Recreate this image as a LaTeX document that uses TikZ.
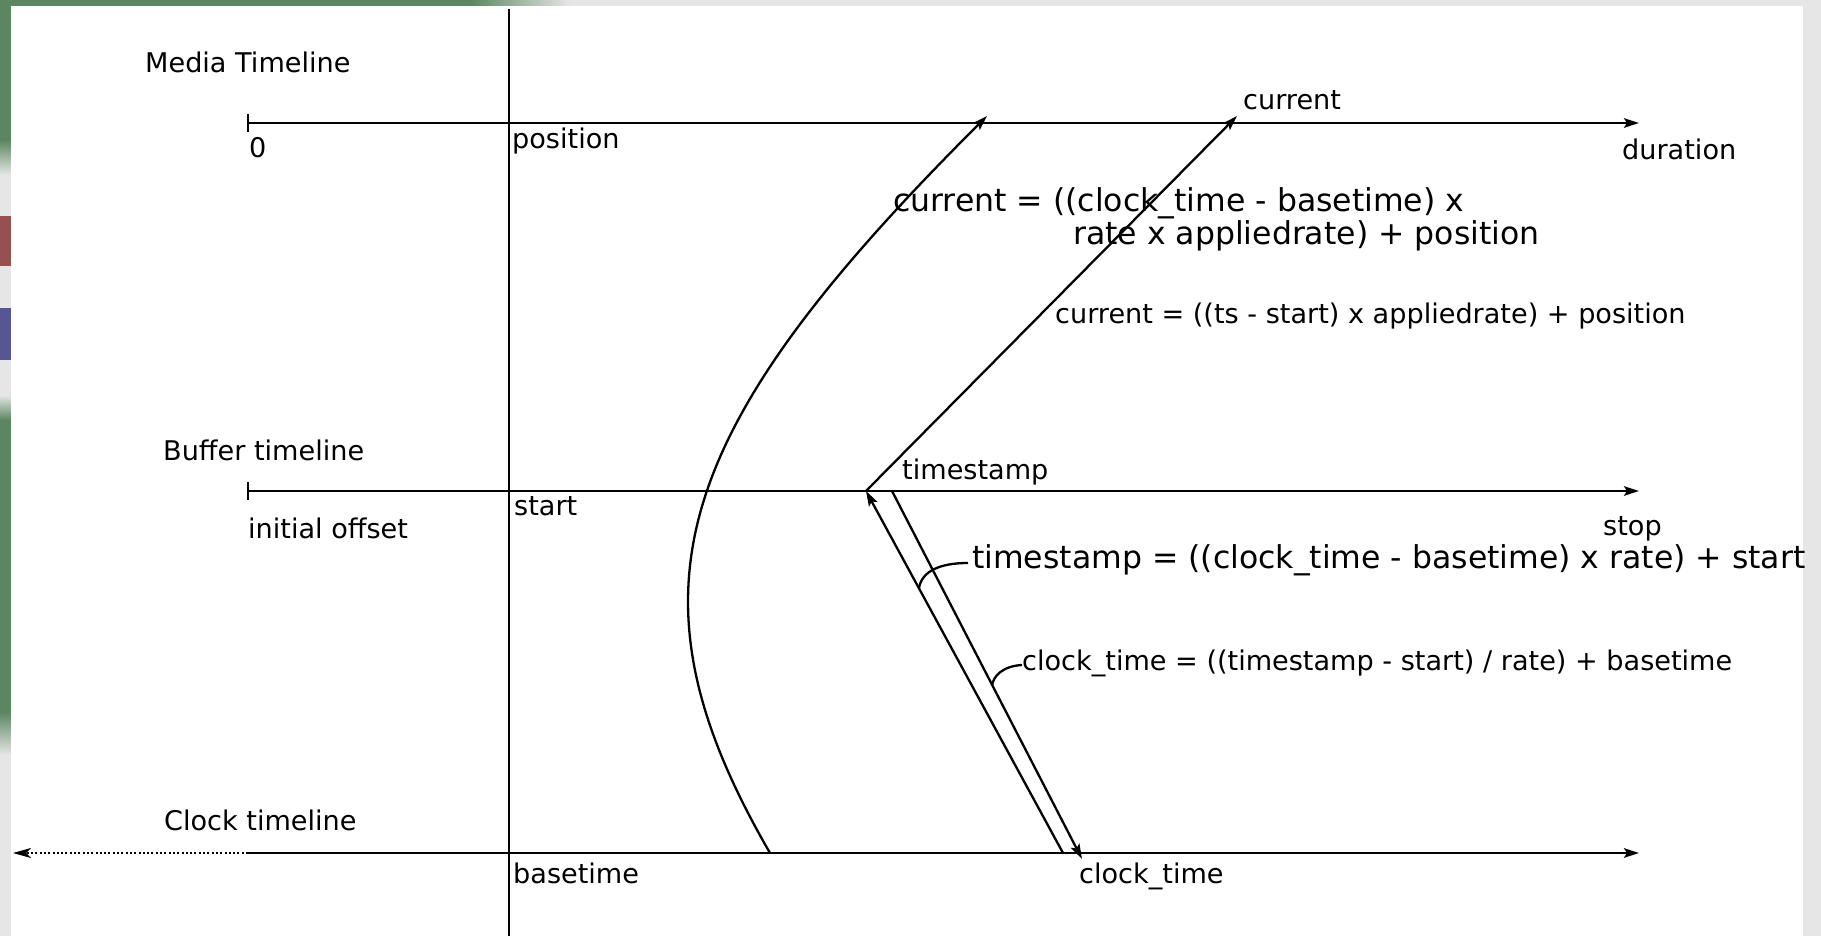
\documentclass[tikz,border=0pt]{standalone}
\usepackage{fontspec}
\setmainfont{DejaVu Sans}
\usetikzlibrary{arrows.meta}
\definecolor{frame}{HTML}{E6E6E6}
\definecolor{leafgreen}{RGB}{92,134,96}
\definecolor{ribred}{RGB}{150,80,80}
\definecolor{ribblue}{RGB}{86,86,150}

\begin{document}
\begin{tikzpicture}[x=1pt,y=-1pt,
  axis/.style={line width=2.3pt},
  tip/.style={-{Stealth[length=15pt,width=9.5pt,inset=3pt]}},
  dotline/.style={line width=1.8pt, dash pattern=on 2pt off 2.3pt,
    -{Stealth[length=18pt,width=10pt,inset=5pt]}},
  lbl/.style={inner sep=0pt, anchor=base west, font=\fontsize{27.1}{32}\selectfont},
  biglbl/.style={inner sep=0pt, anchor=base west, font=\fontsize{31.5}{36}\selectfont},
  leader/.style={line width=2.3pt}]
\useasboundingbox (0,0) rectangle (1821,936);

% slide frame with ribbon edges on the left
\fill[frame] (0,0) rectangle (1821,936);
\fill[leafgreen] (0,0) rectangle (470,6);
\shade[left color=leafgreen, right color=frame] (470,0) rectangle (570,6);
\fill[leafgreen] (0,0) rectangle (11,140);
\shade[top color=leafgreen, bottom color=frame] (0,140) rectangle (11,175);
\fill[ribred] (0,216) rectangle (11,266);
\fill[ribblue] (0,308) rectangle (11,360);
\shade[top color=frame, bottom color=leafgreen] (0,395) rectangle (11,420);
\fill[leafgreen] (0,420) rectangle (11,712);
\shade[top color=leafgreen, bottom color=frame] (0,712) rectangle (11,755);
\fill[white] (11,6) rectangle (1803,936);

% reference points
\coordinate (vTop) at (509,9);
\coordinate (vBot) at (509,936);
\coordinate (m0) at (248,123);
\coordinate (mEnd) at (1639,123);
\coordinate (b0) at (248,491);
\coordinate (bEnd) at (1639,491);
\coordinate (c0) at (248,853);
\coordinate (cEnd) at (1639,853);
\coordinate (cLeft) at (13,853);
\coordinate (ts) at (866,491);
\coordinate (cur) at (1237,116);
\coordinate (cur1) at (987,116);
\coordinate (arcStart) at (770,853);
\coordinate (ctA) at (1063,853);
\coordinate (tsB) at (892,491);
\coordinate (ctB) at (1082,859);
\coordinate (ldA) at (968,563);
\coordinate (ldAend) at (919,588);
\coordinate (ldB) at (1022,665);
\coordinate (ldBend) at (992,686);

% the three timelines
\draw[axis] (vTop) -- (vBot);
\draw[axis,tip] (m0) -- (mEnd);
\draw[axis] ([yshift=9pt]m0) -- ([yshift=-9pt]m0);
\draw[axis,tip] (b0) -- (bEnd);
\draw[axis] ([yshift=9pt]b0) -- ([yshift=-9pt]b0);
\draw[axis,tip] (c0) -- (cEnd);
\draw[dotline] (c0) -- (cLeft);

% conversions between the timelines
\draw[axis,tip] (ts) -- (cur);
\draw[axis,tip] (arcStart) .. controls (620,594) and (668,434) .. (cur1);
\draw[axis,tip] (ctA) -- (ts);
\draw[axis,tip] (tsB) -- (ctB);
\draw[leader] (ldA) .. controls (940,563) and (922,571) .. (ldAend);
\draw[leader] (ldB) .. controls (1003,666) and (993,676) .. (ldBend);

% labels
\node[lbl] (tMedia) at (145,73) {Media Timeline};
\node[lbl] (tZero) at (249,158) {0};
\node[lbl] (tPos) at (512,149) {position};
\node[lbl] (tCur) at (1243,110) {current};
\node[lbl] (tDur) at (1622,160) {duration};
\node[biglbl] (fA1) at (893,212) {current = ((clock\_time - basetime) x};
\node[biglbl] (fA2) at (1073,244) {rate x appliedrate) + position};
\node[lbl] (fB) at (1055,323) {current = ((ts - start) x appliedrate) + position};
\node[lbl] (tBuf) at (163,460) {Buffer timeline};
\node[lbl] (tTs) at (902,479) {timestamp};
\node[lbl] (tStart) at (514,515) {start};
\node[lbl] (tInit) at (248,538) {initial offset};
\node[lbl] (tStop) at (1603,535) {stop};
\node[biglbl] (fC) at (972,568) {timestamp = ((clock\_time - basetime) x rate) + start};
\node[lbl] (fD) at (1022,670) {clock\_time = ((timestamp - start) / rate) + basetime};
\node[lbl] (tClock) at (164,830) {Clock timeline};
\node[lbl] (tBase) at (513,883) {basetime};
\node[lbl] (tCt) at (1079,883) {clock\_time};
\end{tikzpicture}
\end{document}
